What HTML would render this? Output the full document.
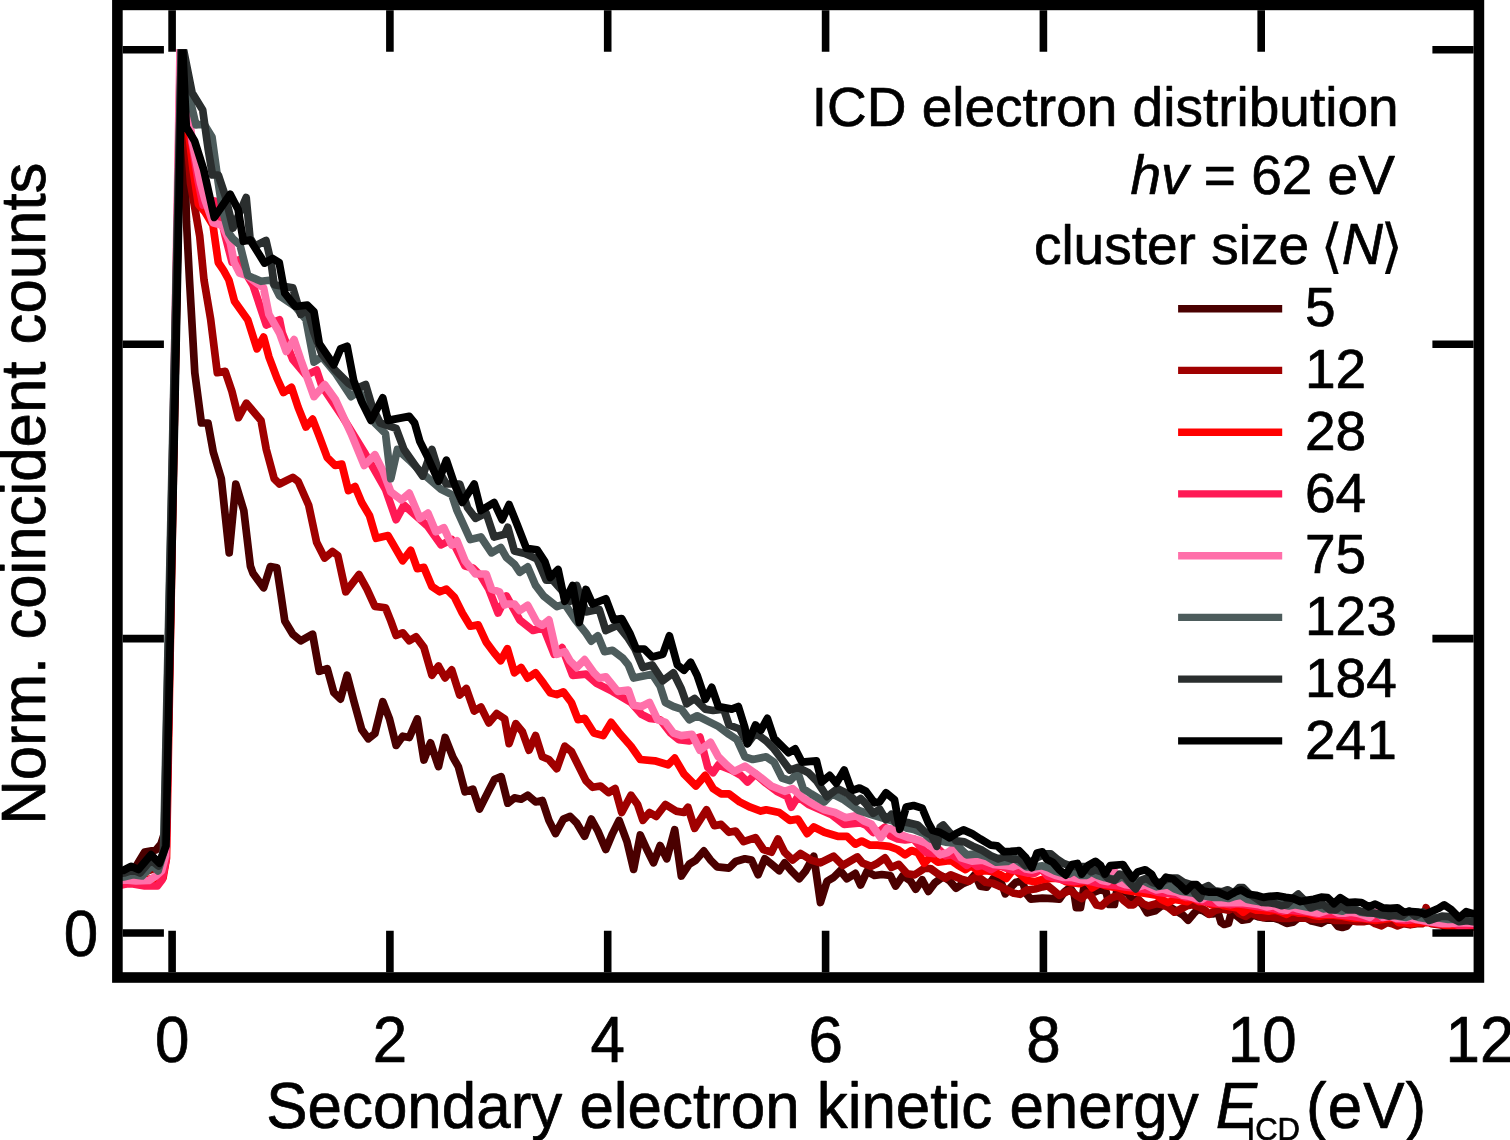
<!DOCTYPE html>
<html lang="en"><head><meta charset="utf-8"><title>ICD electron distribution</title>
<style>
html,body{margin:0;padding:0;background:#fff;}
body{width:1510px;height:1140px;overflow:hidden;}
svg{display:block;}
text{font-family:"Liberation Sans","DejaVu Sans",sans-serif;fill:#000;stroke:#000;stroke-width:0.7px;stroke-linejoin:round;}
.c{fill:none;stroke-width:7.7;stroke-linejoin:round;stroke-linecap:butt;}
.t{stroke:#000;stroke-width:7.6;fill:none;}
.l{stroke-width:7.4;fill:none;}
.i{font-style:italic;}
.b{font-family:"DejaVu Sans","Liberation Sans",sans-serif;font-size:59px;stroke-width:0.2px;}
</style></head><body>
<svg width="1510" height="1140" viewBox="0 0 1510 1140">
<rect x="0" y="0" width="1510" height="1140" fill="#fff"/>
<defs><clipPath id="pa"><rect x="117.4" y="49.2" width="1361.4" height="928"/></clipPath></defs>
<g clip-path="url(#pa)">
<polyline class="c" stroke="#4a0000" points="117.0,882.0 123.0,880.0 135.0,868.0 144.7,852.0 156.0,850.0 161.0,844.0 165.5,830.0 181.8,40.0 186.5,222.0 189.5,280.0 194.8,372.7 201.4,423.0 208.0,423.0 213.3,452.2 221.3,478.7 229.2,552.8 235.8,484.0 243.8,510.5 250.4,566.1 253.0,573.2 263.6,587.8 270.3,566.6 276.9,567.9 280.9,594.4 284.8,620.9 292.8,634.2 300.7,640.8 312.6,634.2 319.3,671.3 327.2,668.6 333.8,692.5 340.5,699.1 347.1,675.2 353.7,700.4 361.7,729.5 368.3,738.8 374.9,733.5 382.8,701.7 389.5,718.9 396.1,745.4 402.7,736.2 409.3,737.5 417.3,718.9 423.9,760.0 430.5,742.8 438.5,766.6 445.1,737.5 453.0,757.4 458.3,766.6 465.0,791.8 472.9,789.1 479.5,809.0 488.8,790.5 494.6,779.3 501.2,776.7 507.8,803.2 514.4,797.9 521.1,799.2 527.7,795.2 535.6,801.9 542.3,800.5 548.9,820.4 555.5,833.6 563.4,819.1 570.1,816.4 576.7,823.0 584.6,836.3 591.3,819.1 597.9,831.0 605.8,849.5 612.5,833.6 619.1,820.4 627.0,841.6 633.6,869.4 640.3,835.0 646.9,849.5 653.5,862.8 660.1,845.6 666.8,858.8 674.7,829.7 681.3,876.0 689.3,864.1 695.9,860.1 703.8,850.9 710.5,860.1 717.1,866.8 729.0,868.1 735.6,861.5 744.9,858.8 751.5,860.1 758.1,874.7 764.8,858.8 771.4,864.1 779.3,870.7 784.6,862.8 791.3,870.7 799.2,878.7 805.8,870.7 813.8,856.2 820.4,902.5 827.0,881.3 833.6,877.4 840.3,870.7 846.9,878.7 855.3,873.4 860.6,885.1 867.0,871.3 874.4,875.5 881.8,874.5 890.3,875.5 895.6,886.1 903.0,875.5 910.4,880.8 915.7,889.3 922.1,879.8 928.4,891.4 934.8,882.9 943.2,876.6 949.6,880.8 956.0,888.2 962.3,884.0 969.7,880.8 975.0,874.5 980.3,886.1 986.7,887.2 993.0,878.7 998.3,874.5 1005.3,893.9 1010.6,887.5 1015.9,882.2 1022.3,881.1 1026.5,893.9 1030.7,899.2 1042.4,898.1 1053.0,898.6 1059.3,899.2 1064.6,891.7 1069.9,887.5 1074.2,893.9 1076.3,907.6 1080.5,907.6 1083.7,888.6 1087.9,893.9 1095.4,891.7 1100.7,889.6 1106.0,891.7 1109.1,904.5 1114.4,904.5 1116.6,891.7 1121.9,889.6 1128.2,893.9 1132.5,900.2 1137.7,899.2 1143.0,905.5 1147.3,912.9 1155.3,910.7 1160.6,906.4 1165.9,904.3 1172.3,908.6 1177.5,911.7 1182.8,914.9 1188.1,920.2 1193.4,913.9 1197.7,909.6 1203.0,910.7 1208.3,913.9 1213.6,913.9 1217.8,911.7 1221.0,922.3 1224.2,924.5 1228.4,923.4 1231.6,911.7 1236.9,916.0 1242.2,920.2 1248.5,919.2 1252.8,914.9 1259.1,917.0 1266.6,918.1 1274.0,918.1 1280.3,920.2 1286.7,923.4 1293.0,922.3 1298.3,918.1 1306.4,918.0 1311.7,921.1 1317.0,922.2 1321.2,923.3 1326.5,920.1 1332.8,920.1 1338.1,926.4 1342.4,927.5 1346.6,926.4 1350.9,921.1 1357.2,921.1 1363.6,921.1 1369.9,920.1 1376.3,921.1 1382.6,922.2 1389.0,921.1 1395.4,922.2 1401.7,922.2 1410.2,924.3 1416.6,923.3 1422.9,922.2 1429.3,922.2 1435.6,922.2 1442.0,923.3 1444.3,927.1 1449.3,928.1 1454.2,929.1 1464.2,925.6 1473.1,925.6 1479.1,925.8"/>
<polyline class="c" stroke="#a00000" points="117.0,884.0 124.7,884.0 134.0,880.0 145.0,872.0 156.0,868.0 162.0,858.0 166.0,842.0 181.8,40.0 186.0,120.0 190.5,183.0 199.7,236.0 204.0,280.0 210.7,319.7 217.3,372.7 225.2,371.4 231.9,391.3 238.5,417.7 246.4,403.2 261.0,420.4 266.3,449.5 274.2,478.7 279.5,484.0 292.8,477.4 298.1,481.3 308.7,505.2 316.6,542.3 324.6,558.1 332.5,551.5 337.8,555.5 343.1,579.9 345.8,591.8 359.0,574.6 367.0,589.1 374.9,606.4 385.5,607.7 390.8,620.9 396.1,635.5 402.7,632.8 409.3,640.8 416.0,636.8 423.9,647.4 431.9,675.2 438.5,666.0 445.1,677.9 451.7,669.9 459.7,695.1 466.3,688.5 474.2,711.0 480.9,707.0 488.8,722.9 496.8,713.6 504.7,718.9 509.1,743.6 515.8,723.7 522.4,731.7 529.0,750.2 535.6,735.6 542.3,756.8 548.9,759.5 556.8,768.7 564.8,746.2 571.4,751.5 578.0,764.8 586.0,780.7 592.6,787.3 600.5,786.0 608.5,792.6 615.1,788.6 621.7,812.5 631.0,795.2 637.6,804.5 642.9,820.4 649.5,812.5 656.2,816.4 665.4,804.5 676.0,811.1 684.0,812.5 687.9,807.2 694.6,828.3 706.5,809.8 714.4,825.7 721.1,824.4 729.0,832.3 735.6,831.0 743.6,841.6 755.5,837.6 763.4,849.5 771.4,852.2 778.0,838.9 784.6,852.2 792.6,860.1 800.5,853.5 811.1,860.1 820.4,862.8 833.6,856.2 842.9,865.4 857.4,856.9 862.7,863.2 871.2,866.4 877.5,863.2 885.0,857.9 891.3,867.5 898.7,864.3 907.2,873.8 914.6,874.9 924.2,868.5 930.5,868.5 937.9,873.8 945.4,878.1 950.7,874.9 961.3,879.1 968.7,881.3 977.2,876.0 985.6,882.3 993.0,883.4 1000.5,886.6 1007.4,890.1 1013.8,893.2 1020.1,894.3 1026.5,890.1 1035.0,889.0 1042.4,886.9 1047.7,885.8 1053.0,890.1 1059.3,895.4 1065.7,892.2 1069.9,890.1 1076.3,895.4 1081.6,898.5 1086.9,893.2 1091.1,896.4 1096.4,904.9 1101.7,906.0 1107.0,900.7 1112.3,897.5 1118.7,895.4 1124.0,900.7 1129.3,904.9 1133.5,904.9 1138.8,899.6 1143.0,903.8 1148.3,906.0 1156.4,903.7 1162.7,904.8 1169.1,907.9 1174.4,912.2 1180.7,909.0 1187.1,905.8 1192.4,904.8 1198.7,906.9 1205.1,910.1 1209.3,914.3 1215.7,910.1 1222.1,909.0 1228.4,910.1 1233.7,907.9 1239.0,913.2 1245.4,916.4 1250.7,913.2 1257.0,915.4 1263.4,917.5 1269.7,916.4 1275.0,917.5 1282.5,918.5 1288.8,918.5 1295.2,917.5 1307.4,918.4 1313.8,919.5 1321.2,919.5 1327.5,918.4 1335.0,920.5 1342.4,920.5 1349.8,920.5 1357.2,921.6 1363.6,921.6 1369.9,920.5 1375.2,923.7 1381.6,925.8 1386.9,922.6 1392.2,923.7 1397.5,925.8 1403.8,923.7 1410.2,924.8 1416.6,923.7 1421.9,923.7 1426.1,907.8 1431.4,923.7 1438.8,924.8 1445.2,925.8 1454.2,927.6 1464.2,928.1 1473.1,926.6 1479.1,926.8"/>
<polyline class="c" stroke="#ff0000" points="117.0,884.0 126.0,882.0 138.0,883.0 150.0,879.0 158.0,882.0 163.0,878.0 166.5,858.0 181.2,40.0 186.0,110.0 193.1,169.7 198.4,204.2 205.0,212.0 213.0,225.4 218.3,262.5 223.6,270.4 228.9,280.0 234.5,301.2 247.7,319.7 257.0,348.9 263.6,337.0 268.9,356.8 276.9,378.0 283.5,392.6 291.5,387.3 298.1,407.2 306.0,427.0 312.6,419.1 319.3,436.3 327.2,457.5 335.2,465.4 341.8,464.1 348.4,490.6 355.0,486.6 361.7,502.5 369.6,515.8 376.2,538.3 388.1,535.6 402.7,560.8 410.7,550.2 417.3,568.7 423.9,567.4 431.9,586.5 439.8,591.8 446.4,589.1 454.4,597.1 462.3,613.0 470.3,626.2 478.2,624.9 486.2,642.1 494.1,652.7 500.7,660.7 507.4,648.7 514.4,672.8 521.1,667.5 527.7,678.1 535.6,672.8 543.6,683.4 550.2,692.7 556.8,694.6 563.4,691.9 571.4,702.5 578.0,719.7 584.6,718.4 593.9,733.0 603.2,735.6 611.1,722.4 620.4,734.3 631.0,746.2 640.3,759.5 654.8,760.8 668.1,764.8 674.7,758.1 684.0,774.0 695.9,786.0 705.2,775.4 713.1,788.6 721.1,793.9 729.0,793.9 739.6,801.9 750.2,807.2 760.8,811.1 766.1,809.8 779.3,812.5 789.9,820.4 797.9,819.1 807.2,833.6 813.8,827.0 824.4,832.3 837.6,836.3 846.9,836.3 855.3,844.2 861.7,841.0 870.1,845.2 877.5,845.2 889.2,846.3 897.7,849.5 905.1,854.8 911.5,850.5 917.8,852.6 924.2,863.2 930.5,856.9 937.9,862.2 945.4,861.1 950.7,860.1 958.1,865.4 965.5,869.6 971.9,865.4 978.2,871.7 985.6,870.7 993.0,871.7 1000.5,874.9 1006.4,878.4 1013.8,868.9 1020.1,874.2 1027.5,880.5 1035.0,881.6 1042.4,879.5 1050.9,878.4 1059.3,878.4 1065.7,881.6 1072.1,882.6 1079.5,883.7 1086.9,880.5 1092.2,887.9 1099.6,883.7 1106.0,885.8 1112.3,886.9 1118.7,887.9 1125.0,890.1 1131.4,891.1 1137.7,892.2 1144.1,893.2 1150.5,894.3 1156.4,895.2 1161.7,899.5 1168.0,902.6 1174.4,899.5 1180.7,900.5 1187.1,901.6 1192.4,898.4 1198.7,901.6 1205.1,901.6 1211.5,904.8 1218.9,903.7 1224.2,905.8 1231.6,906.9 1237.9,907.9 1243.2,912.2 1249.6,907.9 1256.0,910.1 1262.3,910.1 1268.7,911.1 1275.0,910.1 1281.4,912.2 1286.7,914.3 1292.0,911.1 1298.3,913.2 1306.4,913.1 1312.7,915.2 1319.1,916.3 1325.4,915.2 1333.9,915.2 1342.4,916.3 1348.7,917.4 1355.1,918.4 1362.5,918.4 1368.9,919.5 1375.2,920.5 1382.6,919.5 1389.0,918.4 1393.2,917.4 1398.5,922.6 1404.9,922.6 1411.3,923.7 1417.6,922.6 1424.0,922.6 1430.3,922.6 1436.7,923.7 1443.0,924.8 1449.3,926.6 1464.2,927.6 1473.1,925.6 1479.1,925.8"/>
<polyline class="c" stroke="#ff1a55" points="117.0,886.0 126.0,884.0 133.0,884.0 144.7,886.0 157.4,886.0 162.0,880.0 166.0,860.0 180.6,40.0 187.0,105.0 191.5,140.0 198.0,180.0 203.0,205.0 209.0,200.0 217.0,201.5 225.0,235.0 232.0,262.0 239.8,259.6 245.0,272.0 253.0,285.3 266.3,325.0 279.5,319.7 282.2,333.0 292.8,359.5 306.0,375.4 316.6,370.1 321.9,386.0 343.1,417.7 364.3,452.2 385.5,489.3 396.1,519.7 404.0,505.2 427.9,526.4 441.1,544.9 451.7,539.6 465.0,566.1 472.9,567.9 480.9,575.9 488.8,589.1 498.1,613.0 504.7,599.7 506.5,596.0 519.7,619.9 533.0,630.5 543.6,627.8 554.2,654.3 562.1,647.7 572.7,675.5 586.0,674.2 596.6,683.4 612.5,691.4 631.0,702.5 641.6,714.4 649.5,718.4 660.1,719.7 670.7,733.0 678.7,739.6 689.3,740.9 699.9,737.0 707.8,767.4 713.1,772.7 718.4,764.8 731.7,770.1 740.9,775.4 747.5,782.0 755.5,774.0 766.1,783.3 776.7,791.3 787.3,796.6 791.3,807.2 797.9,796.6 808.5,804.5 820.4,809.8 832.3,815.1 844.2,824.4 860.6,823.0 865.9,825.1 873.3,832.5 880.7,830.4 885.0,827.2 890.3,835.7 897.7,838.9 905.1,839.9 913.6,838.9 919.9,846.3 926.3,852.6 934.8,853.7 939.0,849.5 945.4,855.8 951.7,854.8 960.2,860.1 966.6,865.4 971.9,862.2 977.2,866.4 982.5,865.4 990.9,869.6 998.3,865.4 1005.3,867.8 1011.7,869.9 1019.1,871.0 1027.5,873.1 1035.0,873.1 1041.3,868.9 1047.7,876.3 1057.2,878.4 1065.7,880.5 1074.2,881.6 1082.6,880.5 1091.1,881.6 1099.6,883.7 1108.1,884.8 1116.6,885.8 1125.0,886.9 1133.5,887.9 1142.0,889.0 1150.5,890.1 1157.4,892.1 1164.8,893.1 1172.3,894.2 1179.7,895.2 1186.0,897.4 1192.4,897.4 1198.7,900.5 1205.1,901.6 1211.5,902.6 1217.8,903.7 1224.2,903.7 1230.5,904.8 1236.9,903.7 1245.4,904.8 1251.7,905.8 1260.2,906.9 1268.7,907.9 1275.0,909.0 1282.5,911.1 1289.9,910.1 1298.3,911.1 1308.5,912.1 1317.0,914.2 1325.4,914.2 1333.9,914.2 1342.4,915.2 1350.9,916.3 1359.3,917.4 1367.8,918.4 1376.3,918.4 1384.8,917.4 1391.1,916.3 1397.5,919.5 1406.0,920.5 1414.4,919.5 1420.8,920.5 1427.2,921.6 1433.5,922.6 1439.9,923.7 1446.2,922.6 1451.3,922.6 1459.2,925.6 1473.1,924.6 1479.1,924.8"/>
<polyline class="c" stroke="#ff70aa" points="117.0,881.0 125.3,880.0 136.0,881.0 149.0,880.5 156.0,876.0 161.5,871.0 165.5,856.0 180.2,40.0 187.5,105.0 192.5,143.0 200.5,183.0 205.0,200.0 213.0,222.7 222.3,225.4 230.2,242.6 234.2,262.5 239.5,273.0 247.4,275.7 252.7,280.0 263.6,287.9 268.9,314.4 279.5,333.0 286.2,351.5 294.1,339.6 300.7,359.5 314.0,396.6 324.6,384.6 335.2,399.2 351.1,433.6 364.3,465.4 374.9,454.8 382.8,470.7 390.8,491.9 401.4,499.9 409.3,493.2 419.9,518.4 427.9,513.1 435.8,531.7 443.8,527.7 451.7,544.9 457.0,540.9 465.0,560.8 475.6,574.0 486.2,574.0 491.5,589.1 499.4,591.8 504.7,605.0 506.5,604.0 514.4,604.0 519.7,610.6 527.7,605.3 537.0,622.5 542.3,625.2 548.9,619.9 556.8,654.3 564.8,651.7 570.1,660.9 576.7,667.5 584.6,659.6 593.9,672.8 599.2,678.1 605.8,676.8 617.7,691.4 628.3,690.1 633.6,705.2 641.6,706.5 649.5,702.5 657.5,719.7 665.4,722.4 673.4,733.0 681.3,735.6 691.9,734.3 699.9,750.2 710.5,742.3 718.4,756.8 726.4,764.8 734.3,771.4 744.9,766.1 758.1,775.4 771.4,786.0 784.6,791.3 792.6,788.6 803.2,797.9 813.8,804.5 824.4,809.8 835.0,812.5 845.6,817.7 856.4,815.6 863.8,820.9 871.2,824.0 880.7,837.8 887.1,828.3 892.4,829.3 897.7,833.6 909.3,837.8 917.8,839.9 926.3,843.1 933.7,848.4 940.1,854.8 947.5,852.6 954.9,847.4 961.3,857.9 971.9,861.1 982.5,860.1 993.0,864.3 1003.6,865.4 1006.4,865.7 1012.7,866.8 1019.1,864.6 1025.4,868.9 1031.8,869.9 1040.3,867.8 1047.7,872.1 1055.1,875.2 1063.6,877.4 1072.1,877.4 1080.5,879.5 1087.9,880.5 1095.4,876.3 1101.7,880.5 1108.1,881.6 1114.4,871.0 1119.7,882.6 1126.1,884.8 1132.5,885.8 1138.8,886.9 1145.2,884.8 1151.5,887.9 1156.4,889.9 1162.7,888.9 1169.1,891.0 1176.5,892.1 1182.8,895.2 1189.2,896.3 1195.6,898.4 1201.9,899.5 1207.2,896.3 1213.6,897.4 1218.9,902.6 1226.3,902.6 1234.8,902.6 1243.2,902.6 1251.7,903.7 1259.1,904.8 1266.6,906.9 1274.0,905.8 1280.3,909.0 1286.7,910.1 1292.0,906.9 1298.3,909.0 1306.4,911.0 1312.7,912.1 1319.1,913.1 1325.4,911.0 1331.8,909.9 1338.1,913.1 1344.5,913.1 1350.9,912.1 1357.2,913.1 1363.6,915.2 1369.9,917.4 1376.3,912.1 1382.6,917.4 1390.1,916.3 1396.4,918.4 1403.8,918.4 1410.2,917.4 1416.6,919.5 1422.9,920.5 1429.3,921.6 1436.7,922.6 1443.0,923.7 1449.3,923.6 1459.2,922.6 1473.1,923.1 1479.1,923.3"/>
<polyline class="c" stroke="#4d5c5c" points="117.0,878.0 123.7,877.0 133.0,874.7 142.0,876.0 152.0,865.5 158.0,871.0 163.5,853.0 181.4,40.0 189.0,95.0 196.0,125.0 204.0,124.0 212.0,137.0 215.6,163.0 218.3,183.0 222.3,209.5 228.9,233.3 232.8,238.6 240.0,245.0 247.7,275.5 261.0,281.3 271.6,280.0 279.5,295.9 295.4,306.5 306.0,319.7 314.0,362.1 321.9,356.8 335.2,372.7 351.1,396.6 359.0,391.3 374.9,423.0 385.5,433.6 390.8,478.7 397.4,449.5 409.3,460.1 422.6,473.4 441.1,489.3 451.7,494.6 457.0,510.5 470.3,539.6 480.9,537.0 491.5,552.8 500.7,547.5 506.5,557.6 514.4,564.2 519.7,572.2 527.7,566.9 535.6,585.4 543.6,596.0 556.8,606.6 564.8,604.0 575.4,619.9 586.0,633.1 591.3,641.1 597.9,635.8 604.5,651.7 612.5,650.3 623.0,658.3 628.3,664.9 633.6,678.1 652.2,674.2 660.1,686.1 665.4,702.5 673.4,706.5 681.3,709.1 689.3,719.7 697.2,715.8 707.8,721.1 718.4,726.4 729.0,734.3 737.0,739.6 744.9,756.8 752.8,759.5 766.1,756.8 774.0,762.1 782.0,778.0 789.9,780.7 797.9,772.7 803.2,788.6 811.1,793.9 824.4,801.9 832.3,793.9 842.9,799.2 858.5,810.3 871.2,814.6 881.8,817.7 892.4,820.9 907.2,828.3 913.6,829.4 924.2,833.6 930.5,838.9 945.4,842.1 956.0,843.2 961.3,849.5 966.6,854.8 977.2,853.8 987.7,856.9 996.2,862.2 1007.4,861.5 1013.8,858.3 1020.1,862.6 1026.5,866.8 1035.0,866.8 1042.4,865.8 1048.7,867.9 1055.1,871.1 1061.5,873.2 1068.9,874.2 1074.2,871.1 1080.5,875.3 1086.9,875.3 1091.1,872.1 1097.5,875.3 1103.8,877.4 1110.2,878.5 1116.6,879.5 1122.9,876.4 1129.3,882.7 1136.7,882.7 1143.0,880.6 1149.4,883.8 1156.4,886.8 1162.7,885.8 1168.0,884.7 1174.4,888.9 1180.7,891.1 1187.1,892.1 1193.4,893.2 1200.9,895.3 1207.2,896.4 1213.6,897.4 1222.1,897.4 1228.4,898.5 1234.8,896.4 1241.1,895.3 1247.5,899.5 1253.8,900.6 1260.2,901.6 1266.6,902.7 1272.9,902.7 1277.2,901.6 1282.5,904.8 1288.8,905.9 1295.2,904.8 1301.5,905.9 1311.7,907.9 1317.0,905.8 1323.3,908.9 1329.7,907.9 1336.0,910.0 1342.4,911.1 1347.7,908.9 1354.0,907.9 1360.4,912.1 1367.8,913.2 1374.2,913.2 1380.5,915.3 1386.9,914.2 1393.2,915.3 1399.6,916.4 1406.0,917.4 1412.3,915.3 1418.7,917.4 1425.0,918.5 1431.4,919.5 1435.6,917.4 1442.0,918.5 1448.3,919.5 1459.2,919.2 1467.1,918.7 1473.1,919.7 1479.1,919.9"/>
<polyline class="c" stroke="#2a2e2e" points="117.0,874.0 124.0,873.0 133.0,870.0 140.0,873.0 151.0,860.0 158.5,866.0 164.0,850.0 181.6,40.0 192.1,92.7 202.7,110.0 208.0,148.0 212.5,175.0 218.3,175.0 225.0,195.0 233.0,228.0 246.2,197.5 250.0,238.0 255.0,246.0 266.0,240.5 271.0,262.0 274.2,284.8 292.8,287.9 300.7,314.4 307.4,309.1 314.0,333.0 321.9,354.2 335.2,370.1 348.4,383.3 356.4,388.6 365.6,384.6 372.3,407.2 380.2,423.0 396.1,428.3 404.0,449.5 422.6,476.0 431.9,449.5 438.5,470.7 446.4,484.0 459.7,484.0 467.6,507.8 475.6,518.4 486.2,513.1 494.1,537.0 504.7,534.3 507.8,527.2 514.4,551.0 525.0,553.6 537.0,558.9 546.2,580.1 552.8,580.1 562.1,590.7 570.1,601.3 576.7,585.4 586.0,611.9 599.2,609.3 605.8,630.5 617.7,625.2 628.3,638.4 635.0,649.0 642.9,667.5 652.2,664.9 662.8,680.8 673.4,672.8 681.3,688.7 686.6,703.8 694.6,698.5 705.2,709.1 713.1,710.5 723.7,709.1 729.0,725.0 739.6,729.0 747.5,743.6 755.5,733.0 766.1,740.9 774.0,748.9 782.0,759.5 789.9,770.1 797.9,767.4 808.5,772.7 816.4,780.7 827.0,796.6 837.6,788.6 848.2,793.9 856.4,801.7 860.6,798.5 865.9,803.8 873.3,813.3 879.7,809.1 886.0,819.7 891.3,814.4 895.6,822.9 903.0,821.8 909.3,822.9 917.8,825.0 924.2,831.3 931.6,835.6 936.9,846.2 940.1,827.1 943.2,825.0 949.6,832.4 956.0,840.9 964.4,841.9 972.9,846.2 982.5,850.4 990.9,855.7 998.3,858.9 1004.7,856.8 1011.7,859.2 1019.1,859.2 1025.4,865.6 1031.8,861.3 1038.1,857.1 1045.6,853.9 1050.9,853.9 1057.2,859.2 1063.6,863.5 1069.9,865.6 1076.3,866.6 1084.8,866.6 1091.1,871.9 1095.4,869.8 1101.7,871.9 1108.1,878.3 1114.4,880.4 1119.7,874.1 1125.0,876.2 1131.4,884.6 1135.6,888.9 1140.9,880.4 1146.2,878.3 1152.6,882.5 1156.4,883.5 1162.7,881.3 1169.1,878.2 1177.5,878.2 1183.9,882.4 1190.3,884.5 1195.6,894.1 1199.8,898.3 1204.0,887.7 1208.3,885.6 1214.6,890.9 1222.1,891.9 1227.4,889.8 1233.7,893.0 1239.0,887.7 1243.2,887.7 1249.6,894.1 1256.0,898.3 1262.3,902.5 1268.7,902.5 1275.0,903.6 1281.4,905.7 1286.7,904.6 1293.0,898.3 1298.3,894.1 1303.6,899.4 1310.6,907.7 1317.0,905.6 1323.3,904.5 1329.7,909.8 1336.0,909.8 1341.3,905.6 1347.7,909.8 1355.1,909.8 1363.6,911.9 1372.1,913.0 1380.5,914.1 1389.0,916.2 1395.4,915.1 1401.7,916.2 1409.1,910.9 1415.5,916.2 1422.9,911.9 1429.3,920.4 1435.6,918.3 1442.0,916.2 1449.3,916.7 1459.2,921.7 1467.1,920.7 1473.1,921.7 1479.1,922.2"/>
<polyline class="c" stroke="#000000" points="117.0,871.0 123.2,870.5 131.0,866.3 138.4,869.5 151.0,854.7 159.5,863.2 166.0,846.0 182.3,40.0 186.3,127.0 194.6,141.0 203.7,169.7 214.3,217.4 230.2,194.2 238.1,209.5 243.4,241.3 250.1,239.9 264.6,263.1 272.6,258.5 279.2,262.5 284.8,293.2 295.4,306.5 307.4,305.2 314.0,311.8 319.3,343.6 333.8,364.8 340.5,348.9 347.1,346.2 353.7,380.7 361.7,401.9 370.9,420.4 382.8,397.9 388.1,420.4 409.3,416.4 414.6,423.0 419.9,441.6 427.9,457.5 438.5,481.3 446.4,460.1 454.4,484.0 462.3,502.5 474.2,484.0 480.9,510.5 494.1,502.5 502.1,519.7 509.1,504.6 517.1,524.5 526.4,548.3 537.0,549.7 544.9,561.6 550.2,577.5 558.1,569.5 564.8,601.3 572.7,585.4 579.3,622.5 586.0,589.4 592.6,604.0 605.8,598.7 613.8,619.9 621.7,618.5 629.7,633.1 636.3,649.0 644.2,649.0 652.2,657.0 662.8,654.3 669.4,635.8 677.4,664.9 684.0,670.2 690.6,662.3 697.2,675.5 705.2,699.3 711.8,687.4 718.4,706.5 731.7,709.1 738.3,706.5 744.9,727.7 747.5,743.6 755.5,725.0 760.8,730.3 767.4,718.4 774.0,738.3 782.0,746.2 788.6,752.8 795.2,748.9 801.9,762.1 816.4,760.8 821.7,782.0 829.7,775.4 836.3,783.3 844.2,770.1 850.9,788.6 853.2,790.1 859.5,788.0 865.9,791.2 874.4,802.8 879.7,801.8 886.0,792.8 894.5,799.7 899.8,829.3 906.2,807.1 913.6,805.5 922.1,808.1 928.4,823.0 932.6,830.4 940.1,832.5 949.6,837.8 956.0,833.6 963.4,829.9 971.9,833.6 980.3,838.9 990.9,845.2 997.3,845.8 1003.6,851.6 1010.6,851.3 1019.1,850.7 1025.4,857.1 1031.8,867.7 1037.1,852.9 1042.4,851.8 1046.6,859.2 1053.0,862.4 1059.3,869.8 1065.7,875.1 1072.1,864.5 1077.4,863.5 1081.6,874.1 1087.9,865.6 1095.4,861.3 1100.7,865.6 1104.9,874.1 1110.2,865.6 1122.9,864.5 1127.2,870.9 1132.5,878.3 1137.7,871.9 1145.2,869.8 1151.5,874.1 1154.2,879.3 1159.5,885.7 1165.9,877.2 1173.3,879.3 1180.7,885.7 1186.0,891.0 1192.4,884.6 1196.6,884.6 1203.0,891.0 1209.3,892.1 1217.8,892.1 1227.4,896.3 1234.8,892.1 1241.1,889.9 1248.5,894.2 1256.0,895.2 1263.4,897.4 1269.7,896.3 1277.2,895.8 1285.6,897.4 1293.0,898.4 1300.5,901.6 1306.4,900.4 1313.8,899.3 1321.2,897.2 1327.5,897.7 1333.9,903.6 1340.3,897.7 1347.7,902.5 1355.1,902.0 1361.5,902.5 1368.9,906.8 1375.2,904.1 1382.6,907.8 1390.1,908.3 1397.5,907.8 1403.8,912.1 1411.3,911.5 1418.7,912.1 1425.0,914.2 1432.5,911.0 1438.8,908.3 1444.3,904.8 1451.3,909.7 1459.2,917.7 1466.2,911.7 1473.1,913.7 1479.1,914.2"/>
</g>
<rect x="117.4" y="4.9" width="1361.5" height="972.6" fill="none" stroke="#000" stroke-width="10.6"/>
<path class="t" d="M122.7,933.0h41.2M1473.6,933.0h-41.2M122.7,638.6h41.2M1473.6,638.6h-41.2M122.7,344.2h41.2M1473.6,344.2h-41.2M122.7,49.8h41.2M1473.6,49.8h-41.2M172.1,10.2v41.5M172.1,972.2v-41.5M389.9,10.2v41.5M389.9,972.2v-41.5M607.7,10.2v41.5M607.7,972.2v-41.5M825.6,10.2v41.5M825.6,972.2v-41.5M1043.4,10.2v41.5M1043.4,972.2v-41.5M1261.2,10.2v41.5M1261.2,972.2v-41.5"/>
<g font-size="61.9">
<text transform="translate(98.3,956.3) scale(1,1.05)" text-anchor="end">0</text>
<text transform="translate(172.1,1062.3) scale(1,1.05)" text-anchor="middle">0</text>
<text transform="translate(389.9,1062.3) scale(1,1.05)" text-anchor="middle">2</text>
<text transform="translate(607.7,1062.3) scale(1,1.05)" text-anchor="middle">4</text>
<text transform="translate(825.6,1062.3) scale(1,1.05)" text-anchor="middle">6</text>
<text transform="translate(1043.4,1062.3) scale(1,1.05)" text-anchor="middle">8</text>
<text transform="translate(1262.2,1062.3) scale(1,1.05)" text-anchor="middle">10</text>
<text transform="translate(1480.0,1062.3) scale(1,1.05)" text-anchor="middle">12</text>
<text transform="translate(266.3,1127.8) scale(1,1.04)">Secondary electron kinetic energy <tspan class="i">E</tspan><tspan font-size="31" dy="12.2" dx="-10.5">ICD</tspan><tspan dy="-12.2" dx="6" letter-spacing="1.1">(eV)</tspan></text>
<text font-size="61.75" transform="translate(44.9,824.8) rotate(-90) scale(1,1.035)">Norm. coincident counts</text>
</g>
<g font-size="55.0">
<text x="1398.6" y="126.2" text-anchor="end">ICD electron distribution</text>
<text x="1394.9" y="194.1" text-anchor="end"><tspan class="i">hv</tspan> = 62 eV</text>
<text x="1033.9" y="263.5">cluster size <tspan class="b" dx="-4" dy="2.5">⟨</tspan><tspan class="i" dx="-1.5" dy="-2.5" font-size="57">N</tspan><tspan class="b" dx="-2.8" dy="2.5">⟩</tspan></text>
<path class="l" d="M1178.1,308.7H1282.2" stroke="#4a0000"/><text transform="translate(1305,326.3) scale(1,1.02)">5</text>
<path class="l" d="M1178.1,370.4H1282.2" stroke="#a00000"/><text transform="translate(1305,388.0) scale(1,1.02)">12</text>
<path class="l" d="M1178.1,432.2H1282.2" stroke="#ff0000"/><text transform="translate(1305,449.8) scale(1,1.02)">28</text>
<path class="l" d="M1178.1,493.9H1282.2" stroke="#ff1a55"/><text transform="translate(1305,511.5) scale(1,1.02)">64</text>
<path class="l" d="M1178.1,555.7H1282.2" stroke="#ff70aa"/><text transform="translate(1305,573.3) scale(1,1.02)">75</text>
<path class="l" d="M1178.1,617.4H1282.2" stroke="#4d5c5c"/><text transform="translate(1305,635.0) scale(1,1.02)">123</text>
<path class="l" d="M1178.1,679.1H1282.2" stroke="#2a2e2e"/><text transform="translate(1305,696.7) scale(1,1.02)">184</text>
<path class="l" d="M1178.1,740.9H1282.2" stroke="#000000"/><text transform="translate(1305,758.5) scale(1,1.02)">241</text>
</g>
</svg>
</body></html>
